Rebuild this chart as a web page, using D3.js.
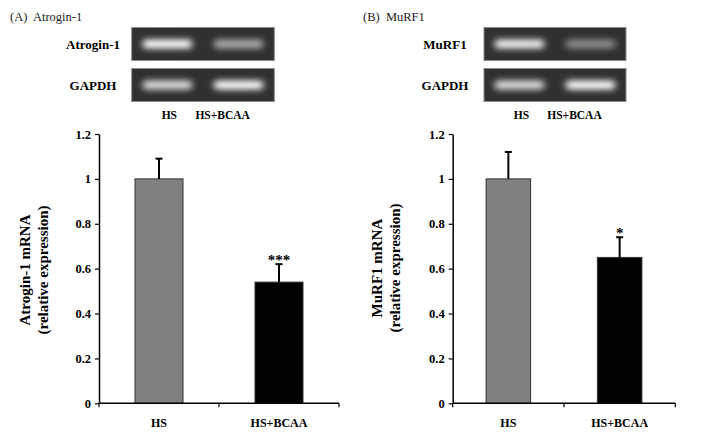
<!DOCTYPE html>
<html>
<head>
<meta charset="utf-8">
<script src="https://cdn.jsdelivr.net/npm/d3@7"></script>
<style>
  body { margin: 0; background: #fff; }
  svg { display: block; }
  text { font-family: "Liberation Serif", "Times New Roman", serif; }
</style>
</head>
<body>
<div id="chart"></div>
<script>
const groups = ["HS", "HS+BCAA"];
const yTicks = [0, 0.2, 0.4, 0.6, 0.8, 1, 1.2];

// relative expression, mean and upper error
const atroginMean = [1.0, 0.54];
const atroginErr = [0.09, 0.08];
const atroginSig = ["", "***"];

const murfMean = [1.0, 0.65];
const murfErr = [0.12, 0.09];
const murfSig = ["", "*"];

// gel band brightness (0..1)
const atroginBand = [1.0, 0.6];
const murfBand = [0.95, 0.45];
const gapdhBandA = [0.85, 1.0];
const gapdhBandB = [0.85, 1.0];

const barColors = ["#808080", "#000000"];

const width = 716, height = 437;

const svg = d3.select("#chart").append("svg")
  .attr("width", width)
  .attr("height", height);

const defs = svg.append("defs");
defs.append("filter")
  .attr("id", "glow")
  .attr("x", "-30%").attr("y", "-150%")
  .attr("width", "160%").attr("height", "400%")
  .append("feGaussianBlur")
  .attr("stdDeviation", "3.5 3");

function drawPanel(p) {
  const g = svg.append("g");

  // panel title
  g.append("text")
    .attr("x", p.titleX).attr("y", 21)
    .attr("font-size", 12.5)
    .attr("fill", "#222")
    .attr("xml:space", "preserve")
    .text(p.title);

  // gel picture
  const gx = d3.scaleBand().domain(groups).range([p.gel[0], p.gel[1]]);
  const rows = [
    { label: p.gene, top: 27.5, vals: p.geneBand },
    { label: "GAPDH", top: 68.5, vals: p.gapdhBand }
  ];
  rows.forEach(r => {
    g.append("rect")
      .attr("x", p.gel[0]).attr("y", r.top)
      .attr("width", p.gel[1] - p.gel[0]).attr("height", 33)
      .attr("fill", "#303030")
      .attr("stroke", "#8a8a8a").attr("stroke-width", 1);
    g.selectAll(null).data(groups).join("rect")
      .attr("x", d => gx(d) + gx.bandwidth() / 2 - 25)
      .attr("y", r.top + 12)
      .attr("width", 50).attr("height", 9)
      .attr("rx", 4.5)
      .attr("fill", "#fff")
      .attr("opacity", (d, i) => r.vals[i])
      .attr("filter", "url(#glow)");
    g.append("text")
      .attr("x", p.labelX).attr("y", r.top + 21)
      .attr("text-anchor", "middle")
      .attr("font-weight", "bold").attr("font-size", 13)
      .text(r.label);
  });
  g.selectAll(null).data(groups).join("text")
    .attr("x", d => gx(d) + gx.bandwidth() / 2 + (d === "HS" ? 2 : -16))
    .attr("y", 119)
    .attr("text-anchor", "middle")
    .attr("font-weight", "bold").attr("font-size", 11.5)
    .text(d => d);

  // bar chart
  const x = d3.scaleBand().domain(groups).range([p.plot[0], p.plot[1]]);
  const y = d3.scaleLinear().domain([0, 1.2]).range([403.3, 134]);
  const bw = x.bandwidth() * 0.4;
  const cx = d => x(d) + x.bandwidth() / 2;

  g.selectAll(null).data(groups).join("rect")
    .attr("x", d => cx(d) - bw / 2)
    .attr("y", (d, i) => y(p.mean[i]))
    .attr("width", bw)
    .attr("height", (d, i) => y(0) - y(p.mean[i]))
    .attr("fill", (d, i) => barColors[i])
    .attr("stroke", "#333").attr("stroke-width", 1);

  // error bars (upper only)
  g.selectAll(null).data(groups).join("line")
    .attr("x1", cx).attr("x2", cx)
    .attr("y1", (d, i) => y(p.mean[i]))
    .attr("y2", (d, i) => y(p.mean[i] + p.err[i]))
    .attr("stroke", "#000").attr("stroke-width", 2);
  g.selectAll(null).data(groups).join("line")
    .attr("x1", d => cx(d) - 3.5).attr("x2", d => cx(d) + 3.5)
    .attr("y1", (d, i) => y(p.mean[i] + p.err[i]))
    .attr("y2", (d, i) => y(p.mean[i] + p.err[i]))
    .attr("stroke", "#000").attr("stroke-width", 2);

  g.selectAll(null).data(groups).join("text")
    .attr("x", cx)
    .attr("y", (d, i) => y(p.mean[i] + p.err[i]) + 0.5)
    .attr("text-anchor", "middle")
    .attr("font-weight", "bold").attr("font-size", 15)
    .text((d, i) => p.sig[i]);

  // y axis
  const yAxis = g.append("g")
    .attr("transform", `translate(${p.plot[0]},0)`)
    .call(d3.axisLeft(y).tickValues(yTicks).tickSize(4).tickSizeOuter(0)
      .tickFormat(d => d3.format("")(+d.toFixed(1))));
  yAxis.select(".domain").attr("stroke", "#000").attr("stroke-width", 1.5);
  yAxis.selectAll(".tick line").attr("stroke", "#000").attr("stroke-width", 1.2);
  yAxis.selectAll(".tick text")
    .attr("x", -8)
    .attr("font-family", "Liberation Serif")
    .attr("font-weight", "bold").attr("font-size", 12.5).attr("fill", "#000");

  // x axis with ticks at category boundaries
  const xAxisG = g.append("g").attr("transform", `translate(0,${y(0)})`);
  xAxisG.append("line")
    .attr("x1", p.plot[0]).attr("x2", p.plot[1])
    .attr("stroke", "#000").attr("stroke-width", 1.5);
  const bounds = groups.map(d => x(d)).concat([p.plot[1]]);
  xAxisG.selectAll(null).data(bounds).join("line")
    .attr("x1", d => d).attr("x2", d => d)
    .attr("y1", 0).attr("y2", 4)
    .attr("stroke", "#000").attr("stroke-width", 1.2);
  xAxisG.selectAll(null).data(groups).join("text")
    .attr("x", cx).attr("y", 24)
    .attr("text-anchor", "middle")
    .attr("font-weight", "bold").attr("font-size", 12)
    .text(d => d);

  // y axis title
  const t = g.append("text")
    .attr("transform", `translate(${p.yTitleX},${p.yTitleY}) rotate(-90)`)
    .attr("text-anchor", "middle")
    .attr("font-weight", "bold").attr("font-size", 15);
  t.append("tspan").attr("x", 0).attr("dy", 0).text(p.yTitle[0]);
  t.append("tspan").attr("x", 0).attr("dy", 17.5).text(p.yTitle[1]);
}

drawPanel({
  title: "(A)  Atrogin-1", titleX: 10,
  gene: "Atrogin-1", labelX: 93,
  gel: [131.7, 274.3], geneBand: atroginBand, gapdhBand: gapdhBandA,
  plot: [99, 339],
  mean: atroginMean, err: atroginErr, sig: atroginSig,
  yTitle: ["Atrogin-1 mRNA", "(relative expression)"],
  yTitleX: 30, yTitleY: 270
});

drawPanel({
  title: "(B)  MuRF1", titleX: 363,
  gene: "MuRF1", labelX: 445,
  gel: [484, 626], geneBand: murfBand, gapdhBand: gapdhBandB,
  plot: [452.7, 675.3],
  mean: murfMean, err: murfErr, sig: murfSig,
  yTitle: ["MuRF1 mRNA", "(relative expression)"],
  yTitleX: 382, yTitleY: 268
});
</script>
</body>
</html>
